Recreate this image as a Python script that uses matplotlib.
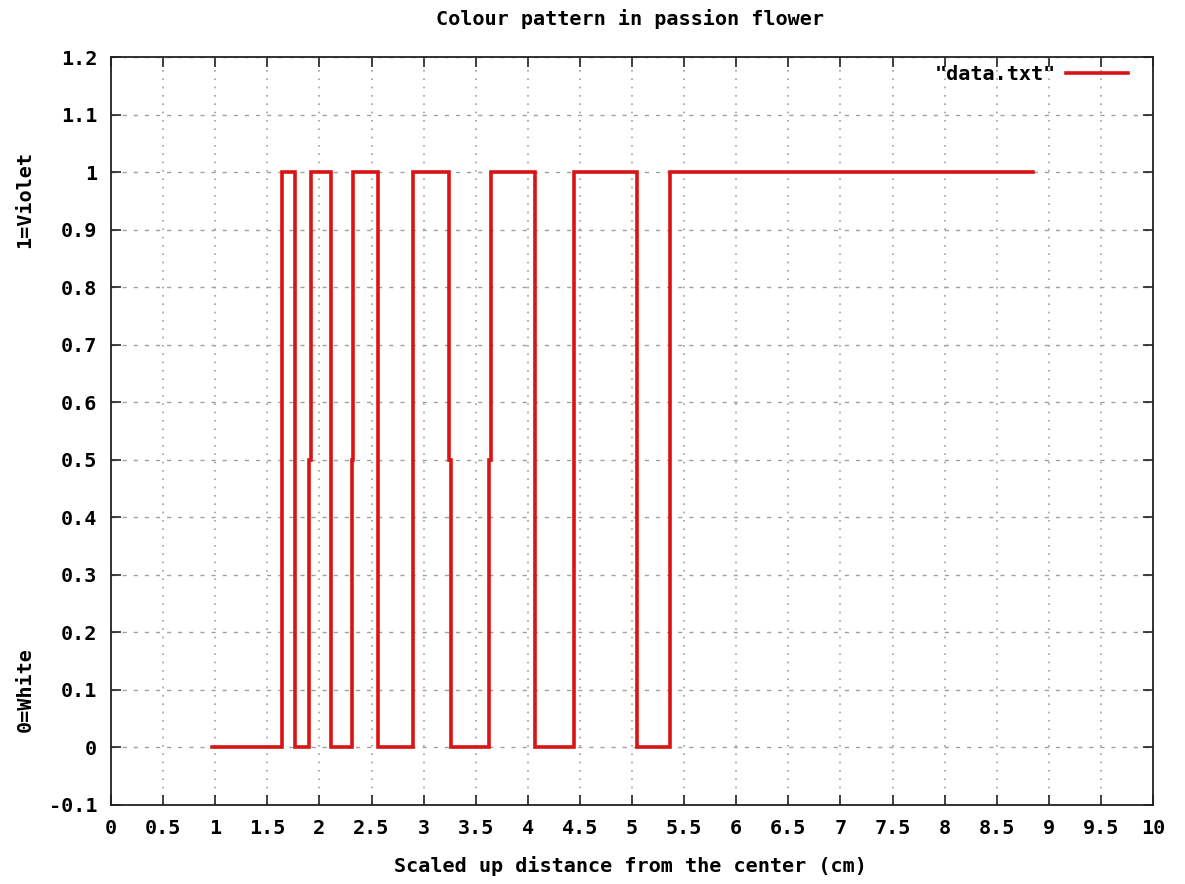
import matplotlib
matplotlib.use("Agg")
import matplotlib.pyplot as plt
import numpy as np

# distance (cm) where the colour level changes, and the level from there on
distance = [0.97, 1.64, 1.77, 1.90, 1.92, 2.11, 2.31, 2.32, 2.56, 2.90,
            3.24, 3.26, 3.63, 3.65, 4.07, 4.44, 5.05, 5.36, 8.85]
colour = [0, 1, 0, 0.5, 1, 0, 0.5, 1, 0, 1,
          0.5, 0, 0.5, 1, 0, 1, 0, 1, 1]

x_ticks = np.arange(0, 10.01, 0.5)
y_ticks = np.round(np.arange(-0.1, 1.201, 0.1), 1)

FONT = {"family": "DejaVu Sans Mono", "weight": "bold", "size": 14.5}


def main():
    fig = plt.figure(figsize=(11.85, 8.84), dpi=100)
    ax = fig.add_axes([0.0937, 0.0894, 0.8793, 0.8461])

    ax.plot(distance, colour, drawstyle="steps-post", color="#d81414",
            linewidth=2.6, label='"data.txt"', solid_joinstyle="miter")

    ax.set_xlim(0, 10)
    ax.set_ylim(-0.1, 1.2)
    ax.set_xticks(x_ticks)
    ax.set_yticks(y_ticks)
    ax.set_xticklabels(["%g" % v for v in x_ticks], fontdict=FONT)
    ax.set_yticklabels(["%g" % v for v in y_ticks], fontdict=FONT)
    ax.tick_params(direction="in", length=7, width=1.2, top=True, right=True,
                   color="#222222")
    ax.tick_params(axis="x", pad=10)
    ax.tick_params(axis="y", pad=10)
    for s in ax.spines.values():
        s.set_linewidth(1.3)
        s.set_color("#222222")

    # gnuplot-style grid: dotted verticals, dashed horizontals
    ax.xaxis.grid(True, linestyle=(0, (1, 4)), color="#a0a0a0", linewidth=1.2)
    ax.yaxis.grid(True, linestyle=(0, (3, 5)), color="#a0a0a0", linewidth=1.0)
    ax.set_axisbelow(True)

    fig.text(0.532, 0.979, "Colour pattern in passion flower", ha="center",
             va="center", **FONT)
    fig.text(0.532, 0.020, "Scaled up distance from the center (cm)",
             ha="center", va="center", **FONT)
    fig.text(0.021, 0.774, "1=Violet", rotation=90, ha="center", va="center",
             **FONT)
    fig.text(0.021, 0.220, "0=White", rotation=90, ha="center", va="center",
             **FONT)

    ax.legend(loc="upper right", bbox_to_anchor=(0.984, 1.0),
              borderaxespad=0, frameon=False, markerfirst=False,
              handlelength=3.1, handletextpad=0.5,
              prop={"family": "DejaVu Sans Mono", "weight": "bold",
                    "size": 14.5})

    fig.savefig("out.png", dpi=100)
    plt.close(fig)


if __name__ == '__main__':
    main()
